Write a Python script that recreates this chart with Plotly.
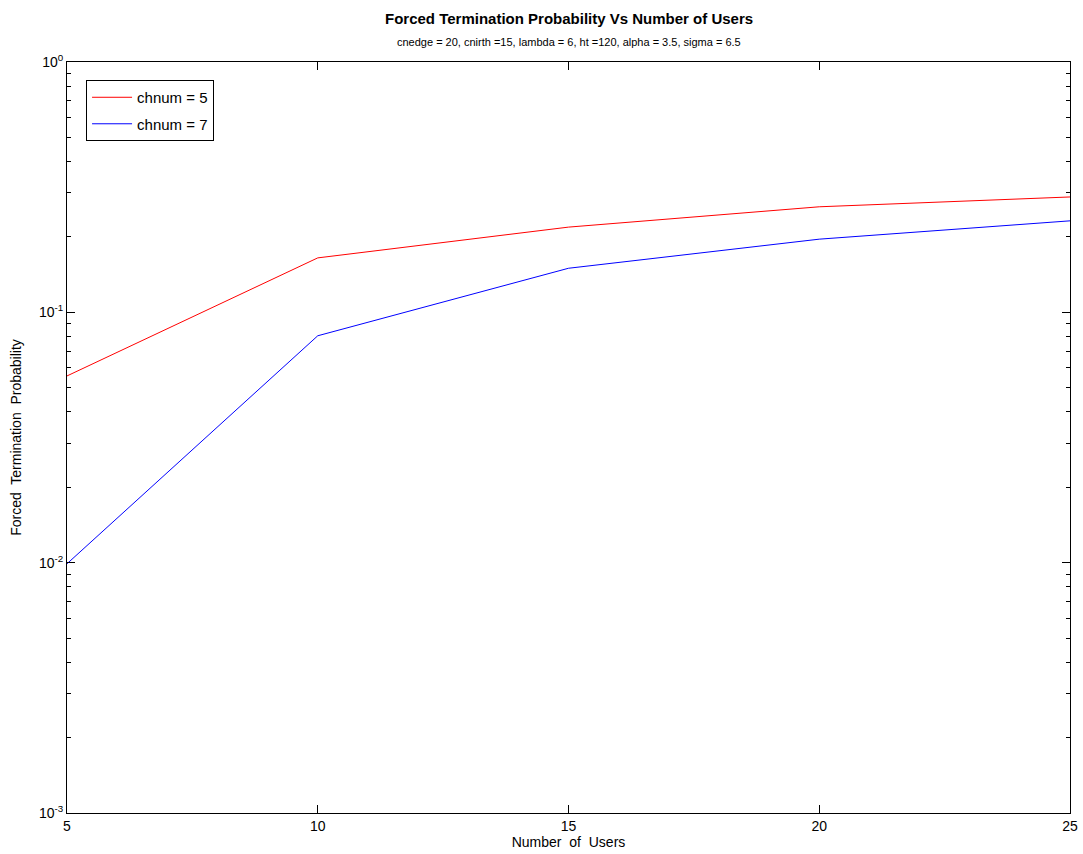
import plotly.graph_objects as go

# Number of users and forced termination probability per channel count
users = [5, 10, 15, 20, 25]
p_chnum5 = [0.0557, 0.165, 0.219, 0.264, 0.289]
p_chnum7 = [0.0099, 0.0806, 0.150, 0.196, 0.232]

x_ticks = [5, 10, 15, 20, 25]
y_ticks = [0.001, 0.01, 0.1, 1]
y_tick_text = ["10<sup>-3</sup>", "10<sup>-2</sup>", "10<sup>-1</sup>", "10<sup>0</sup>"]
y_minor = [m * 10.0 ** e for e in (-3, -2, -1) for m in range(2, 10)]

FONT = "Liberation Sans, Arial, sans-serif"

fig = go.Figure()
fig.add_trace(go.Scatter(x=users, y=p_chnum5, mode="lines", name="chnum = 5",
                         legendgroup="a", line=dict(color="#ff0000", width=1)))
fig.add_trace(go.Scatter(x=users, y=p_chnum7, mode="lines", name="chnum = 7",
                         legendgroup="b", line=dict(color="#0000ff", width=1)))

axis_common = dict(showline=True, linecolor="black", linewidth=1, mirror="allticks",
                   ticks="inside", tickcolor="black", showgrid=False, zeroline=False,
                   automargin=False,
                   tickfont=dict(family=FONT, size=14, color="black"))

fig.update_xaxes(range=[5, 25], tickvals=x_ticks, ticklen=8,
                 title=dict(text="Number  of  Users", font=dict(family=FONT, size=14, color="black"),
                            standoff=0),
                 **axis_common)
fig.update_yaxes(type="log", range=[-3, 0], tickvals=y_ticks, ticktext=y_tick_text, ticklen=8,
                 minor=dict(tickvals=y_minor, ticks="inside", ticklen=4, tickcolor="black"),
                 title=dict(text="Forced  Termination  Probability",
                            font=dict(family=FONT, size=14, color="black"), standoff=14),
                 **axis_common)

fig.update_layout(
    width=1083, height=854,
    margin=dict(l=67, r=13, t=62, b=41, autoexpand=False),
    paper_bgcolor="white", plot_bgcolor="white",
    showlegend=True,
    legend=dict(x=0.019, y=0.976, xanchor="left", yanchor="top",
                bordercolor="black", borderwidth=1, bgcolor="white",
                font=dict(family=FONT, size=15, color="black"),
                tracegroupgap=4, itemwidth=40),
    annotations=[
        dict(text="<b>Forced Termination Probability Vs Number of Users</b>",
             xref="paper", yref="paper", x=0.5, y=1, yshift=44, showarrow=False,
             font=dict(family=FONT, size=15, color="black"), yanchor="middle"),
        dict(text="cnedge = 20, cnirth =15, lambda = 6, ht =120, alpha = 3.5, sigma = 6.5",
             xref="paper", yref="paper", x=0.5, y=1, yshift=20, showarrow=False,
             font=dict(family=FONT, size=11, color="black"), yanchor="middle"),
    ],
)

fig.write_html("out.html")
